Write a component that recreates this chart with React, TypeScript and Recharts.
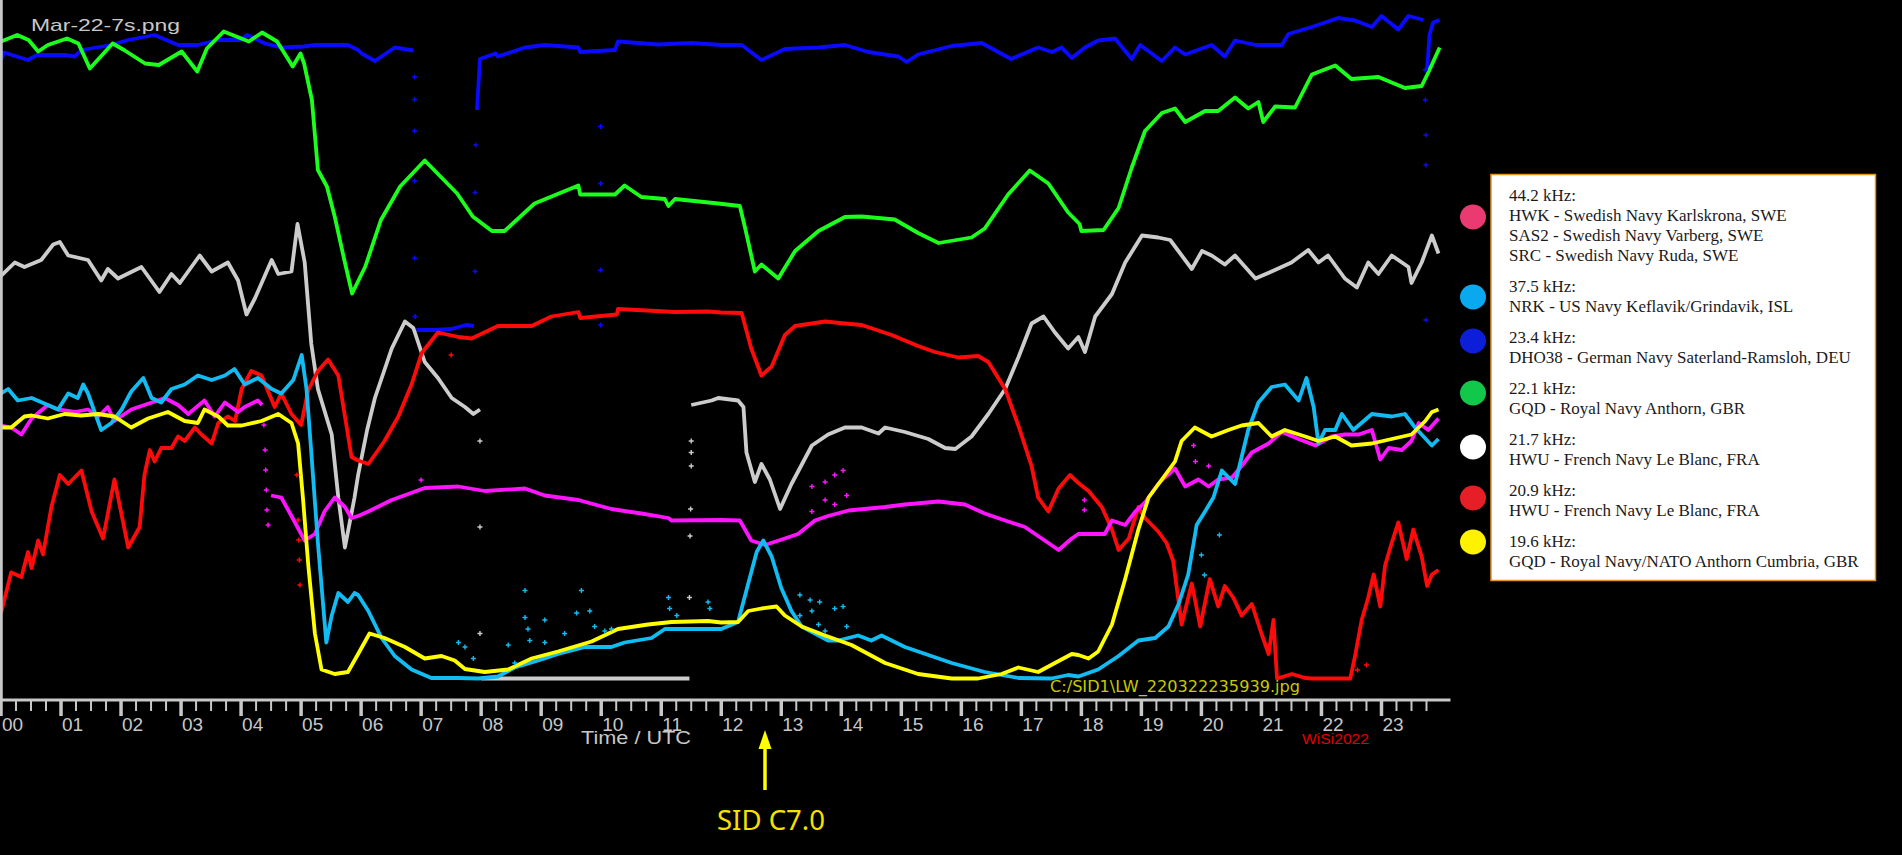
import React from "react";
import { ComposedChart, Line, Scatter, XAxis, YAxis } from "recharts";

type Pt = [number, number | null];

// hours on the x axis, signal level in tick units (0 = axis, 14 = top)
const hourLabels = ["00", "01", "02", "03", "04", "05", "06", "07", "08", "09", "10", "11", "12", "13", "14", "15", "16", "17", "18", "19", "20", "21", "22", "23"];
const levelTicks = [1, 2, 3, 4, 5, 6, 7, 8, 9, 10, 11, 12, 13];

// 23.4 kHz DHO38
const blueLine: Pt[] = [
  [0, 12.8], [0.05, 12.95], [0.45, 12.8], [0.6, 12.9], [1.06, 12.9], [1.23, 12.87], [1.34, 13.0], [1.84, 13.1], [2.12, 13.2], [2.56, 13.3], [2.95, 13.1], [3.28, 13.1], [3.62, 13.2], [4.0, 13.2], [4.1, 13.3], [4.4, 13.13], [4.67, 13.05], [5.05, 13.07], [5.23, 13.1], [5.78, 13.1], [5.95, 13.0], [6.01, 12.93], [6.23, 12.78], [6.56, 13.05], [6.87, 12.99],
  [6.89, null],
  [6.92, 7.4], [7.2, 7.4], [7.5, 7.42], [7.75, 7.5], [7.88, 7.48],
  [7.9, null],
  [7.93, 11.8], [7.98, 12.82], [8.24, 12.93], [8.28, 12.87], [8.73, 13.05], [9.06, 13.1], [9.62, 13.05], [9.65, 12.96], [10.23, 13.0], [10.28, 13.17], [10.95, 13.11], [11.5, 13.14], [12.0, 13.1], [12.34, 13.1], [12.67, 12.8], [13.06, 13.02], [13.62, 13.05], [14.06, 13.1], [14.45, 12.96], [14.95, 12.87], [15.09, 12.76], [15.28, 12.91], [15.84, 13.08], [16.34, 13.14], [16.83, 12.82], [17.28, 13.05], [17.51, 12.96], [17.67, 13.05], [17.84, 12.84], [18.06, 13.05], [18.28, 13.19], [18.56, 13.23], [18.84, 12.82], [18.98, 13.1], [19.34, 12.78], [19.56, 13.05], [19.73, 12.91], [20.17, 13.1], [20.39, 12.87], [20.56, 13.19], [20.9, 13.1], [21.34, 13.1], [21.45, 13.32], [21.84, 13.46], [22.28, 13.64], [22.56, 13.59], [22.84, 13.46], [23.0, 13.68], [23.28, 13.41], [23.45, 13.68], [23.7, 13.6],
  [23.72, null],
  [23.76, 12.6], [23.8, 13.3], [23.86, 13.55], [23.97, 13.6],
];
const blueNoise: Pt[] = [
  [6.89, 12.46], [6.89, 12.01], [6.89, 11.38], [6.89, 10.38], [6.89, 8.84], [6.9, 7.67], [7.9, 8.57], [7.9, 10.15], [7.91, 11.1], [9.99, 11.47], [9.99, 10.33], [9.99, 8.6], [9.99, 7.5], [23.73, 12.6], [23.73, 12.0], [23.74, 11.3], [23.74, 10.7], [23.74, 7.6],
];

// 22.1 kHz GQD
const greenLine: Pt[] = [
  [0, 13.17], [0.27, 13.3], [0.46, 13.2], [0.62, 12.97], [0.78, 13.1], [1.1, 13.23], [1.29, 13.13], [1.48, 12.63], [1.86, 13.13], [2.05, 13.0], [2.4, 12.73], [2.63, 12.7], [3.01, 12.97], [3.27, 12.57], [3.43, 13.03], [3.71, 13.37], [4.13, 13.17], [4.35, 13.35], [4.6, 13.17], [4.86, 12.67], [4.99, 12.93], [5.05, 12.73], [5.18, 12.0], [5.28, 10.6], [5.43, 10.27], [5.56, 9.67], [5.72, 8.8], [5.85, 8.13], [6.07, 8.67], [6.33, 9.6], [6.65, 10.27], [7.06, 10.79], [7.6, 10.13], [7.86, 9.67], [8.18, 9.38], [8.39, 9.38], [8.89, 9.93], [9.62, 10.29], [9.65, 10.11], [10.23, 10.11], [10.39, 10.29], [10.67, 10.06], [11.06, 10.02], [11.12, 9.88], [11.23, 10.02], [11.95, 9.93], [12.31, 9.88], [12.39, 9.48], [12.56, 8.57], [12.67, 8.71], [12.95, 8.43], [13.23, 8.98], [13.62, 9.38], [14.06, 9.66], [14.34, 9.67], [14.89, 9.61], [15.28, 9.34], [15.62, 9.14], [16.17, 9.25], [16.39, 9.43], [16.78, 10.11], [17.14, 10.59], [17.45, 10.33], [17.78, 9.75], [17.97, 9.52], [18.0, 9.38], [18.37, 9.4], [18.62, 9.84], [18.84, 10.65], [19.06, 11.38], [19.34, 11.74], [19.56, 11.83], [19.73, 11.56], [20.06, 11.78], [20.28, 11.78], [20.56, 12.05], [20.78, 11.83], [20.95, 11.96], [21.03, 11.56], [21.23, 11.87], [21.56, 11.85], [21.84, 12.51], [22.23, 12.69], [22.5, 12.42], [22.95, 12.46], [23.39, 12.24], [23.67, 12.28], [23.78, 12.55], [23.97, 13.05],
];

// 21.7 kHz HWU
const whiteLine: Pt[] = [
  [0, 8.48], [0.23, 8.75], [0.39, 8.66], [0.67, 8.8], [0.87, 9.11], [0.98, 9.16], [1.12, 8.89], [1.45, 8.8], [1.67, 8.39], [1.78, 8.62], [1.95, 8.43], [2.34, 8.66], [2.64, 8.16], [2.84, 8.52], [2.98, 8.34], [3.31, 8.89], [3.51, 8.57], [3.78, 8.75], [3.95, 8.39], [4.09, 7.71], [4.23, 8.03], [4.51, 8.8], [4.62, 8.52], [4.84, 8.57], [4.94, 9.52], [5.06, 8.75], [5.17, 7.12], [5.28, 6.22], [5.51, 5.31], [5.62, 4.05], [5.73, 3.05], [5.89, 4.05], [5.95, 4.5], [6.1, 5.4], [6.23, 6.04], [6.51, 7.03], [6.73, 7.57], [6.87, 7.44], [7.06, 6.76], [7.28, 6.44], [7.51, 6.04], [7.73, 5.86], [7.87, 5.72], [7.98, 5.81],
  [7.99, null],
  [8.0, 0.43], [9.5, 0.43], [11.47, 0.43],
  [11.49, null],
  [11.5, 5.9], [11.84, 5.99], [11.95, 6.04], [12.28, 5.99], [12.37, 5.86], [12.42, 4.95], [12.56, 4.36], [12.67, 4.72], [12.81, 4.41], [12.98, 3.82], [13.17, 4.32], [13.51, 5.09], [13.78, 5.31], [14.06, 5.45], [14.34, 5.45], [14.62, 5.33], [14.73, 5.45], [15.06, 5.36], [15.45, 5.22], [15.73, 5.04], [15.9, 5.02], [16.17, 5.27], [16.45, 5.72], [16.73, 6.22], [16.95, 6.85], [17.17, 7.53], [17.37, 7.67], [17.56, 7.35], [17.78, 7.03], [17.95, 7.26], [18.06, 6.96], [18.23, 7.67], [18.51, 8.12], [18.73, 8.75], [19.01, 9.29], [19.28, 9.25], [19.48, 9.2], [19.84, 8.62], [20.01, 8.98], [20.17, 8.89], [20.39, 8.71], [20.56, 8.89], [20.9, 8.43], [21.17, 8.57], [21.5, 8.75], [21.78, 9.0], [21.95, 8.75], [22.11, 8.89], [22.39, 8.43], [22.59, 8.25], [22.78, 8.75], [22.95, 8.52], [23.17, 8.89], [23.45, 8.66], [23.5, 8.34], [23.67, 8.75], [23.84, 9.29], [23.95, 8.93],
];
const whiteNoise: Pt[] = [
  [7.98, 5.18], [7.98, 3.46], [7.98, 1.33], [11.5, 5.18], [11.5, 4.95], [11.5, 4.68], [11.49, 3.82], [11.48, 3.28], [11.47, 2.05],
];

// 20.9 kHz HWU
const redLine: Pt[] = [
  [0, 1.74], [0.17, 2.55], [0.34, 2.46], [0.45, 2.96], [0.51, 2.64], [0.62, 3.19], [0.7, 2.91], [0.84, 3.86], [0.98, 4.5], [1.12, 4.32], [1.34, 4.59], [1.51, 3.77], [1.7, 3.23], [1.89, 4.41], [2.12, 3.05], [2.31, 3.46], [2.39, 4.5], [2.48, 5.0], [2.56, 4.77], [2.67, 5.04], [2.84, 5.04], [2.95, 5.27], [3.06, 5.18], [3.23, 5.45], [3.34, 5.31], [3.51, 5.13], [3.62, 5.54], [3.78, 5.67], [3.9, 5.58], [4.01, 6.22], [4.17, 6.58], [4.34, 6.49], [4.56, 5.86], [4.67, 6.13], [4.84, 5.72], [5.0, 5.5], [5.12, 6.2], [5.28, 6.58], [5.45, 6.81], [5.62, 6.49], [5.84, 4.86], [5.95, 4.79], [6.12, 4.72], [6.39, 5.18], [6.62, 5.67], [6.84, 6.31], [7.01, 6.94], [7.28, 7.35], [7.62, 7.26], [7.84, 7.23], [8.28, 7.48], [8.84, 7.48], [9.17, 7.67], [9.62, 7.76], [9.65, 7.64], [10.26, 7.71], [10.28, 7.82], [11.23, 7.76], [11.78, 7.77], [12.0, 7.75], [12.34, 7.74], [12.5, 7.03], [12.67, 6.49], [12.84, 6.67], [13.06, 7.3], [13.23, 7.48], [13.73, 7.57], [14.06, 7.53], [14.34, 7.5], [14.84, 7.3], [15.28, 7.08], [15.56, 6.96], [15.95, 6.85], [16.28, 6.88], [16.45, 6.76], [16.73, 6.22], [16.95, 5.49], [17.17, 4.68], [17.28, 4.05], [17.45, 3.77], [17.62, 4.23], [17.81, 4.5], [17.95, 4.34], [18.12, 4.18], [18.34, 3.86], [18.51, 3.41], [18.62, 3.0], [18.79, 3.23], [18.95, 3.86], [19.06, 3.64], [19.28, 3.37], [19.42, 3.14], [19.53, 2.78], [19.67, 1.51], [19.84, 2.33], [19.98, 1.47], [20.14, 2.42], [20.28, 1.87], [20.39, 2.28], [20.53, 2.05], [20.67, 1.69], [20.84, 1.92], [21.0, 1.33], [21.12, 0.92], [21.2, 1.6], [21.26, 0.43], [21.51, 0.52], [21.73, 0.44], [21.84, 0.43], [22.48, 0.43], [22.56, 0.88], [22.67, 1.6], [22.78, 2.05], [22.87, 2.51], [22.98, 1.87], [23.06, 2.69], [23.17, 3.14], [23.28, 3.55], [23.42, 2.82], [23.53, 3.41], [23.67, 2.87], [23.76, 2.28], [23.84, 2.51], [23.95, 2.6],
];
const redNoise: Pt[] = [
  [4.93, 4.5], [4.95, 3.6], [4.96, 3.2], [4.97, 2.8], [4.98, 2.3], [7.5, 6.9], [22.6, 0.6], [22.75, 0.7],
];

// 37.5 kHz NRK
const cyanLine: Pt[] = [
  [0, 6.13], [0.12, 6.22], [0.28, 5.99], [0.51, 6.04], [0.78, 5.9], [0.95, 5.81], [1.12, 6.13], [1.28, 6.04], [1.37, 6.31], [1.45, 6.13], [1.56, 5.76], [1.67, 5.4], [1.84, 5.54], [2.01, 5.81], [2.17, 6.17], [2.37, 6.44], [2.51, 6.04], [2.67, 5.95], [2.84, 6.22], [3.06, 6.31], [3.28, 6.49], [3.51, 6.4], [3.73, 6.49], [3.89, 6.62], [4.06, 6.31], [4.28, 6.44], [4.51, 6.22], [4.67, 6.13], [4.87, 6.4], [5.01, 6.9], [5.09, 6.22], [5.17, 4.95], [5.28, 3.14], [5.42, 1.15], [5.51, 1.69], [5.62, 2.14], [5.78, 1.96], [5.89, 2.14], [5.95, 2.1], [6.12, 1.78], [6.34, 1.24], [6.56, 0.88], [6.84, 0.61], [7.17, 0.44], [7.62, 0.44], [7.95, 0.43], [8.28, 0.47], [8.56, 0.65], [8.95, 0.79], [9.28, 0.92], [9.73, 1.06], [10.17, 1.06], [10.39, 1.15], [10.84, 1.24], [11.06, 1.42], [11.45, 1.42], [11.78, 1.42], [12.0, 1.42], [12.28, 1.56], [12.45, 2.33], [12.59, 2.96], [12.7, 3.19], [12.84, 2.87], [13.0, 2.24], [13.17, 1.78], [13.34, 1.47], [13.78, 1.19], [13.95, 1.19], [14.28, 1.29], [14.5, 1.19], [14.67, 1.29], [15.06, 1.06], [15.84, 0.74], [16.39, 0.56], [16.95, 0.44], [17.5, 0.43], [17.78, 0.5], [17.95, 0.47], [18.28, 0.61], [18.62, 0.88], [18.95, 1.19], [19.23, 1.24], [19.45, 1.47], [19.62, 1.92], [19.78, 2.51], [19.87, 3.14], [19.92, 3.5], [20.06, 3.77], [20.2, 4.05], [20.34, 4.59], [20.56, 4.32], [20.67, 4.86], [20.78, 5.4], [20.95, 5.95], [21.17, 6.26], [21.39, 6.31], [21.62, 5.99], [21.75, 6.44], [21.87, 5.86], [21.95, 5.13], [22.06, 5.4], [22.23, 5.4], [22.34, 5.72], [22.53, 5.4], [22.84, 5.72], [23.17, 5.67], [23.39, 5.72], [23.56, 5.45], [23.84, 5.09], [23.95, 5.22],
];
const cyanNoise: Pt[] = [
  [7.62, 1.15], [7.73, 1.06], [7.87, 0.83], [8.45, 1.1], [8.56, 0.74], [8.73, 2.19], [8.73, 1.65], [8.78, 1.42], [8.81, 1.19], [9.06, 1.6], [9.06, 1.15], [9.39, 1.33], [9.59, 1.74], [9.67, 2.19], [9.81, 1.78], [9.89, 1.47], [10.06, 1.38], [10.17, 1.42], [11.12, 2.05], [11.14, 1.83], [11.26, 1.69], [11.78, 1.96], [11.81, 1.83],
  [13.31, 2.1], [13.48, 2.0], [13.64, 1.96], [13.51, 1.78], [13.31, 1.69], [13.89, 1.83], [14.03, 1.87], [14.09, 1.47], [13.62, 1.51], [13.73, 1.38], [20.0, 2.9], [20.05, 2.5], [20.3, 3.3],
];

// 44.2 kHz HWK / SAS2 / SRC
const magentaLine: Pt[] = [
  [0, 5.49], [0.17, 5.45], [0.34, 5.31], [0.51, 5.63], [0.78, 5.9], [0.95, 5.81], [1.23, 5.76], [1.45, 5.81], [1.62, 5.67], [1.78, 5.86], [1.89, 5.58], [2.17, 5.81], [2.39, 5.9], [2.73, 6.04], [2.95, 5.9], [3.12, 5.72], [3.39, 5.99], [3.56, 5.67], [3.73, 5.95], [3.95, 5.76], [4.06, 5.86], [4.28, 5.99], [4.35, 5.9],
  [4.4, null],
  [4.5, 4.09], [4.67, 4.05], [4.84, 3.68], [5.06, 3.19], [5.23, 3.32], [5.39, 3.77], [5.56, 4.05], [5.73, 3.86], [5.84, 3.64], [5.95, 3.68], [6.12, 3.77], [6.51, 4.0], [7.06, 4.24], [7.62, 4.27], [8.06, 4.18], [8.73, 4.23], [9.06, 4.09], [9.62, 4.0], [10.17, 3.82], [10.67, 3.73], [11.12, 3.64], [11.17, 3.59], [12.0, 3.6], [12.31, 3.59], [12.5, 3.19], [12.73, 3.1], [13.06, 3.23], [13.28, 3.32], [13.56, 3.59], [13.78, 3.68], [14.12, 3.79], [14.73, 3.86], [15.06, 3.91], [15.62, 3.97], [16.06, 3.91], [16.39, 3.73], [16.73, 3.59], [17.06, 3.46], [17.39, 3.19], [17.62, 3.0], [17.84, 3.23], [17.95, 3.32], [18.39, 3.32], [18.51, 3.59], [18.73, 3.5], [18.9, 3.77], [19.06, 3.95], [19.28, 4.32], [19.39, 4.45], [19.56, 4.63], [19.73, 4.27], [19.95, 4.41], [20.12, 4.27], [20.28, 4.41], [20.51, 4.45], [20.67, 4.68], [20.84, 4.95], [21.12, 5.13], [21.34, 5.36], [21.62, 5.22], [21.9, 5.09], [22.17, 5.27], [22.39, 5.31], [22.62, 5.31], [22.84, 5.4], [22.98, 4.81], [23.12, 5.04], [23.34, 5.0], [23.5, 5.18], [23.62, 5.54], [23.78, 5.4], [23.95, 5.63],
];
const magentaNoise: Pt[] = [
  [4.38, 5.5], [4.4, 5.0], [4.41, 4.6], [4.42, 4.2], [4.43, 3.8], [4.45, 3.5], [7.0, 4.4], [13.51, 4.27], [13.73, 4.36], [13.89, 4.5], [14.03, 4.59], [13.73, 4.0], [13.89, 3.91], [14.09, 4.09], [13.51, 3.77], [19.87, 5.09], [19.9, 4.77], [20.12, 4.68], [18.05, 3.8], [18.05, 4.0],
];

// 19.6 kHz GQD
const yellowLine: Pt[] = [
  [0, 5.45], [0.17, 5.45], [0.39, 5.67], [0.51, 5.69], [0.78, 5.63], [1.06, 5.72], [1.34, 5.69], [1.62, 5.72], [1.89, 5.67], [2.17, 5.45], [2.45, 5.63], [2.78, 5.76], [3.06, 5.58], [3.28, 5.54], [3.39, 5.81], [3.62, 5.67], [3.78, 5.49], [4.01, 5.49], [4.34, 5.58], [4.62, 5.72], [4.84, 5.54], [4.95, 5.13], [5.03, 4.05], [5.12, 2.69], [5.23, 1.33], [5.34, 0.61], [5.56, 0.52], [5.78, 0.56], [5.95, 0.92], [6.14, 1.33], [6.39, 1.24], [6.73, 1.06], [7.06, 0.83], [7.34, 0.88], [7.56, 0.79], [7.73, 0.62], [8.06, 0.56], [8.45, 0.61], [8.84, 0.83], [9.28, 0.97], [9.84, 1.17], [10.28, 1.42], [10.78, 1.51], [11.17, 1.56], [11.78, 1.58], [12.0, 1.55], [12.28, 1.56], [12.45, 1.78], [12.67, 1.83], [12.92, 1.87], [13.06, 1.69], [13.34, 1.47], [13.73, 1.29], [14.17, 1.1], [14.73, 0.74], [15.28, 0.52], [15.84, 0.43], [16.28, 0.43], [16.67, 0.52], [16.95, 0.65], [17.28, 0.56], [17.56, 0.74], [17.84, 0.92], [17.95, 0.9], [18.12, 0.83], [18.28, 0.97], [18.51, 1.51], [18.73, 2.42], [18.95, 3.41], [19.12, 4.05], [19.34, 4.41], [19.56, 4.77], [19.67, 5.18], [19.89, 5.45], [20.17, 5.27], [20.45, 5.4], [20.67, 5.49], [20.95, 5.54], [21.17, 5.27], [21.39, 5.4], [21.73, 5.27], [21.95, 5.18], [22.23, 5.27], [22.5, 5.09], [22.84, 5.13], [23.17, 5.22], [23.5, 5.31], [23.73, 5.58], [23.84, 5.76], [23.95, 5.81],
];

const legendGroups = [
  { color: "#ea3a72", lines: ["44.2 kHz:", "HWK - Swedish Navy Karlskrona, SWE", "SAS2 - Swedish Navy Varberg, SWE", "SRC - Swedish Navy Ruda, SWE"] },
  { color: "#0aa8ef", lines: ["37.5 kHz:", "NRK - US Navy Keflavik/Grindavik, ISL"] },
  { color: "#0c1ed8", lines: ["23.4 kHz:", "DHO38 - German Navy Saterland-Ramsloh, DEU"] },
  { color: "#12c84a", lines: ["22.1 kHz:", "GQD - Royal Navy Anthorn, GBR"] },
  { color: "#ffffff", lines: ["21.7 kHz:", "HWU - French Navy Le Blanc, FRA"] },
  { color: "#e61e26", lines: ["20.9 kHz:", "HWU - French Navy Le Blanc, FRA"] },
  { color: "#fff200", lines: ["19.6 kHz:", "GQD - Royal Navy/NATO Anthorn Cumbria, GBR"] },
];
const legendDotY = [217, 297, 341, 393, 447, 498, 542];

const toRows = (pts: Pt[]) => pts.map(([h, v]) => ({ h, v }));
const quarterTicks = hourLabels.flatMap((_, i) => [i, i + 0.25, i + 0.5, i + 0.75]);

const AXIS = "#c8c8c8";
const PLOT_BOTTOM = 700;

function HourTick(props: any) {
  const { x, payload } = props;
  const v = payload.value as number;
  const major = Number.isInteger(v);
  return (
    <g>
      <line x1={x} x2={x} y1={PLOT_BOTTOM} y2={PLOT_BOTTOM + (major ? 16 : 11)} stroke={AXIS} strokeWidth={major ? 3.5 : 2} />
      {major && (
        <text x={x + 1} y={PLOT_BOTTOM + 31} fill={AXIS} fontSize={19} fontFamily="Liberation Sans, Arial, sans-serif">
          {hourLabels[v]}
        </text>
      )}
    </g>
  );
}

const plus = (color: string) => (p: any) => (
  <path d={`M${p.cx - 2.5},${p.cy}h5M${p.cx},${p.cy - 2.5}v5`} stroke={color} strokeWidth={1.4} fill="none" />
);

const series = [
  { name: "blue", pts: blueLine, color: "#0a0aff" },
  { name: "green", pts: greenLine, color: "#1cff1c" },
  { name: "white", pts: whiteLine, color: "#cccccc" },
  { name: "red", pts: redLine, color: "#ff0a0a" },
  { name: "magenta", pts: magentaLine, color: "#ff14ff" },
  { name: "cyan", pts: cyanLine, color: "#12bcf2" },
  { name: "yellow", pts: yellowLine, color: "#ffff00" },
];
const noise = [
  { name: "blueN", pts: blueNoise, color: "#0a0aff" },
  { name: "whiteN", pts: whiteNoise, color: "#cccccc" },
  { name: "redN", pts: redNoise, color: "#ff0a0a" },
  { name: "magentaN", pts: magentaNoise, color: "#ff14ff" },
  { name: "cyanN", pts: cyanNoise, color: "#12bcf2" },
];

export default function App() {
  let row = 0;
  const legendText: React.ReactNode[] = [];
  legendGroups.forEach((g, gi) => {
    g.lines.forEach((t, li) => {
      const y = 200.5 + row * 20.3 + gi * 10.3;
      legendText.push(
        <text key={`${gi}-${li}`} x={1509} y={y} fontSize={17} fill="#1a1a1a" fontFamily="Liberation Serif, Times New Roman, serif">
          {t}
        </text>
      );
      row++;
    });
  });

  return (
    <div style={{ position: "relative", width: 1902, height: 855, background: "#000", overflow: "hidden" }}>
      <style>{`html,body{margin:0;background:#000}`}</style>
      <div style={{ position: "absolute", left: 0, top: 0, pointerEvents: "none" }}>
        <ComposedChart width={1460} height={760} margin={{ top: 0, right: 9.5, left: 1, bottom: 0 }}>
          <XAxis
            dataKey="h"
            type="number"
            domain={[0, 24.15]}
            ticks={quarterTicks}
            interval={0}
            tick={<HourTick />}
            tickLine={false}
            tickSize={0}
            tickMargin={0}
            axisLine={{ stroke: AXIS, strokeWidth: 3 }}
            height={60}
            allowDataOverflow
          />
          <YAxis
            type="number"
            domain={[0, 14]}
            ticks={levelTicks}
            width={0.5}
            mirror
            tick={false}
            tickSize={15}
            tickLine={{ stroke: AXIS, strokeWidth: 3 }}
            axisLine={{ stroke: AXIS, strokeWidth: 3.5 }}
            allowDataOverflow
          />
          {series.map((s) => (
            <Line
              key={s.name}
              data={toRows(s.pts)}
              dataKey="v"
              type="linear"
              stroke={s.color}
              strokeWidth={3.8}
              strokeLinejoin="round"
              dot={false}
              activeDot={false}
              connectNulls={false}
              isAnimationActive={false}
              legendType="none"
            />
          ))}
          {noise.map((s) => (
            <Scatter key={s.name} data={toRows(s.pts)} dataKey="v" fill={s.color} shape={plus(s.color)} isAnimationActive={false} legendType="none" />
          ))}
        </ComposedChart>
      </div>
      <svg width={1902} height={855} style={{ position: "absolute", left: 0, top: 0, pointerEvents: "none" }}>
        <text x={31} y={31} fill={AXIS} fontSize={17} fontFamily="Liberation Sans, Arial, sans-serif" textLength={149} lengthAdjust="spacingAndGlyphs">
          Mar-22-7s.png
        </text>
        <text x={1050} y={692} fill="#c8c800" fontSize={16} fontFamily="DejaVu Sans, sans-serif" textLength={250} lengthAdjust="spacingAndGlyphs">
          C:/SID1\LW_220322235939.jpg
        </text>
        <text x={581} y={744} fill={AXIS} fontSize={18} fontFamily="Liberation Sans, Arial, sans-serif" textLength={110} lengthAdjust="spacingAndGlyphs">
          Time / UTC
        </text>
        <text x={1302} y={744} fill="#e00000" fontSize={15} fontFamily="Liberation Sans, Arial, sans-serif" textLength={67} lengthAdjust="spacingAndGlyphs">
          WiSi2022
        </text>
        <line x1={765} x2={765} y1={744} y2={790} stroke="#ffff00" strokeWidth={3.5} />
        <polygon points="765,730 758.5,749 771.5,749" fill="#ffff00" />
        <text x={717} y={830} fill="#f5e000" fontSize={28} fontFamily="Noto Sans, Open Sans, sans-serif" textLength={108} lengthAdjust="spacingAndGlyphs">
          SID C7.0
        </text>
        {legendGroups.map((g, i) => (
          <ellipse key={g.color} cx={1473} cy={legendDotY[i]} rx={13} ry={12.5} fill={g.color} />
        ))}
        <rect x={1491} y={174.5} width={384.5} height={406} fill="#ffffff" stroke="#e8921e" strokeWidth={1.5} />
        {legendText}
      </svg>
    </div>
  );
}
